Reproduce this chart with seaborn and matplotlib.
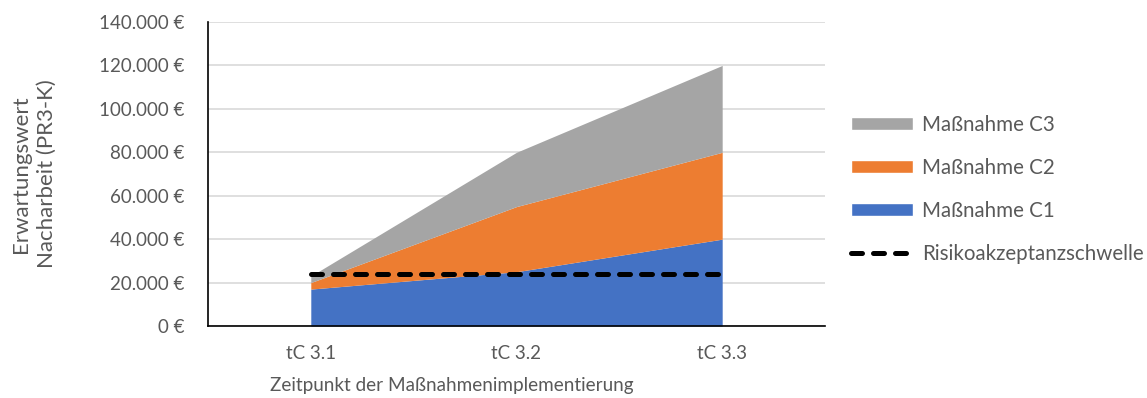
import matplotlib
matplotlib.use("Agg")
import matplotlib.pyplot as plt
import seaborn as sns
import numpy as np
import pandas as pd
from matplotlib.patches import Patch
from matplotlib.lines import Line2D

# Data
zeitpunkte = ["tC 3.1", "tC 3.2", "tC 3.3"]
massnahme_c1 = [17000, 25000, 40000]
massnahme_c2 = [3000, 30000, 40000]
massnahme_c3 = [3000, 25000, 40000]
schwelle = [24000, 24000, 24000]
y_ticks = [0, 20000, 40000, 60000, 80000, 100000, 120000, 140000]

sns.set_style("white")
plt.rcParams["font.family"] = ["Lato", "DejaVu Sans"]

text_col = "#595959"
farben = ["#4472C4", "#ED7D31", "#A5A5A5"]

fig = plt.figure(figsize=(11.47, 3.98), dpi=100)
ax = fig.add_axes([0.1813, 0.1809, 0.7193 - 0.1813, 0.9447 - 0.1809])

x = np.arange(len(zeitpunkte))
ax.stackplot(x, massnahme_c1, massnahme_c2, massnahme_c3,
             colors=farben, linewidth=0, zorder=2)

df = pd.DataFrame({"x": x, "Schwelle": schwelle})
sns.lineplot(data=df, x="x", y="Schwelle", ax=ax, color="black",
             linewidth=3.6, zorder=3, legend=False)
line = ax.lines[-1]
line.set_dashes((2.2, 2.2))
line.set_dash_capstyle("round")

ax.set_xlim(-0.5, 2.5)
ax.set_ylim(0, 140000)
ax.set_yticks(y_ticks)
ax.set_yticklabels([f"{v:,.0f} €".replace(",", ".") for v in y_ticks],
                   color=text_col, fontsize=13.5)
ax.set_xticks(x)
ax.set_xticklabels(zeitpunkte, color=text_col, fontsize=13.5)
ax.tick_params(axis="x", which="major", length=0, pad=14)
ax.set_xticks([-0.5, 0.5, 1.5, 2.5], minor=True)
ax.tick_params(axis="x", which="minor", length=6, width=1.2, color="black", direction="out")
ax.tick_params(axis="y", length=0, pad=17)

ax.grid(axis="y", color="#D9D9D9", linewidth=1.2, zorder=0)
ax.set_axisbelow(True)
for s in ["top", "right"]:
    ax.spines[s].set_visible(False)
for s in ["left", "bottom"]:
    ax.spines[s].set_color("black")
    ax.spines[s].set_linewidth(1.2)

ax.set_xlabel("")
ax.set_ylabel("")
fig.text(452 / 1147, 1 - 386 / 398, "Zeitpunkt der Maßnahmenimplementierung",
         color=text_col, fontsize=13.6, ha="center", va="center")
fig.text(34 / 1147, 1 - 174 / 398, "Erwartungswert\nNacharbeit (PR3-K)",
         color=text_col, fontsize=16, ha="center", va="center",
         rotation=90, linespacing=1.4)

handles = [Patch(facecolor=farben[2]), Patch(facecolor=farben[1]),
           Patch(facecolor=farben[0]),
           Line2D([0], [0], color="black", linewidth=3.6, dashes=(2.2, 2.2),
                  dash_capstyle="round")]
labels = ["Maßnahme C3", "Maßnahme C2", "Maßnahme C1", "Risikoakzeptanzschwelle"]
leg = fig.legend(handles, labels, loc="center left", bbox_to_anchor=(0.7258, 0.525),
                 frameon=False, fontsize=14.8, labelcolor=text_col,
                 handlelength=3.01, handleheight=0.62, labelspacing=1.12,
                 handletextpad=0.44)

fig.savefig("out.png", dpi=100)
